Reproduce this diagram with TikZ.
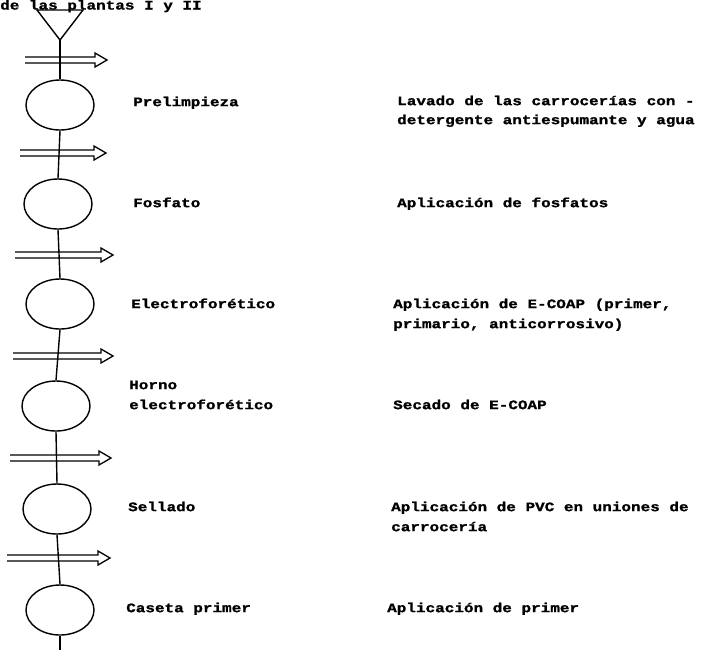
\documentclass[tikz,border=0pt]{standalone}
\usepackage{fontspec}
\newfontfamily\dotfont{Liberation Mono}[FakeStretch=1.23, BoldFeatures={FakeBold=1.2}]
\usetikzlibrary{calc,shapes.geometric}
\tikzset{
  stage/.style={draw, ellipse, line width=1.4pt, minimum width=68pt, minimum height=50pt, inner sep=0pt},
  lbl/.style={anchor=mid west, inner sep=0pt, font=\dotfont\bfseries\fontsize{13}{15}\selectfont},
  flow/.style={line width=1.4pt},
  feed/.style={line width=1.3pt, line join=miter},
}
% hollow double arrow from #1 to #2
\newcommand{\feedarrow}[2]{%
  \draw[feed] ($(#1)+(0,-3)$) -- ($(#2)+(-12,-3)$) -- ($(#2)+(-12,-7)$) -- (#2)
    -- ($(#2)+(-12,7)$) -- ($(#2)+(-12,3)$) -- ($(#1)+(0,3)$);}
\begin{document}
\begin{tikzpicture}[x=1pt,y=-1pt]
\useasboundingbox (0,0) rectangle (703,649);
\clip (0,0) rectangle (703,649);

% heading at the top edge
\node[anchor=base west, inner sep=0pt, font=\dotfont\bfseries\fontsize{13}{15}\selectfont] (head) at (0,9.5) {de las plantas I y II};

% inlet triangle
\coordinate (apex) at (60,40);
\draw[flow] (37,10) -- (83,10) -- (apex) -- cycle;

% process stages
\node[stage] (s1) at (60,105) {};
\node[stage] (s2) at (58,204) {};
\node[stage] (s3) at (60,304) {};
\node[stage] (s4) at (56,406) {};
\node[stage] (s5) at (57,509) {};
\node[stage] (s6) at (60,610) {};
\coordinate (out) at (60,655);

% main line
\draw[flow] (apex) -- (s1.north);
\draw[flow] (s1.south) -- (s2.north);
\draw[flow] (s2.south) -- (s3.north);
\draw[flow] (s3.south) -- (s4.north);
\draw[flow] (s4.south) -- (s5.north);
\draw[flow] (s5.south) -- (s6.north);
\draw[flow] (s6.south) -- (out);

% side feeds crossing the line
\coordinate (f1a) at (25,60);  \coordinate (f1b) at (107,60);
\coordinate (f2a) at (20,153); \coordinate (f2b) at (106,153);
\coordinate (f3a) at (15,255); \coordinate (f3b) at (113,255);
\coordinate (f4a) at (13,356); \coordinate (f4b) at (113,356);
\coordinate (f5a) at (10,458); \coordinate (f5b) at (111,458);
\coordinate (f6a) at (7,558);  \coordinate (f6b) at (110,558);
\foreach \i in {1,...,6} {\feedarrow{f\i a}{f\i b}}

% stage names
\node[lbl] (n1) at (133,104) {Prelimpieza};
\node[lbl] (n2) at (133,205) {Fosfato};
\node[lbl] (n3) at (131,306) {Electroforético};
\node[lbl] (n4a) at (129,387) {Horno};
\node[lbl] (n4b) at (129,407) {electroforético};
\node[lbl] (n5) at (128,509) {Sellado};
\node[lbl] (n6) at (126,610) {Caseta primer};

% descriptions
\node[lbl] (d1a) at (397,103) {Lavado de las carrocerías con -};
\node[lbl] (d1b) at (397,122) {detergente antiespumante y agua};
\node[lbl] (d2) at (397,205) {Aplicación de fosfatos};
\node[lbl] (d3a) at (393,306) {Aplicación de E-COAP (primer,};
\node[lbl] (d3b) at (393,326) {primario, anticorrosivo)};
\node[lbl] (d4) at (393,407) {Secado de E-COAP};
\node[lbl] (d5a) at (391,509) {Aplicación de PVC en uniones de};
\node[lbl] (d5b) at (391,529) {carrocería};
\node[lbl] (d6) at (387,610) {Aplicación de primer};
\end{tikzpicture}
\end{document}
